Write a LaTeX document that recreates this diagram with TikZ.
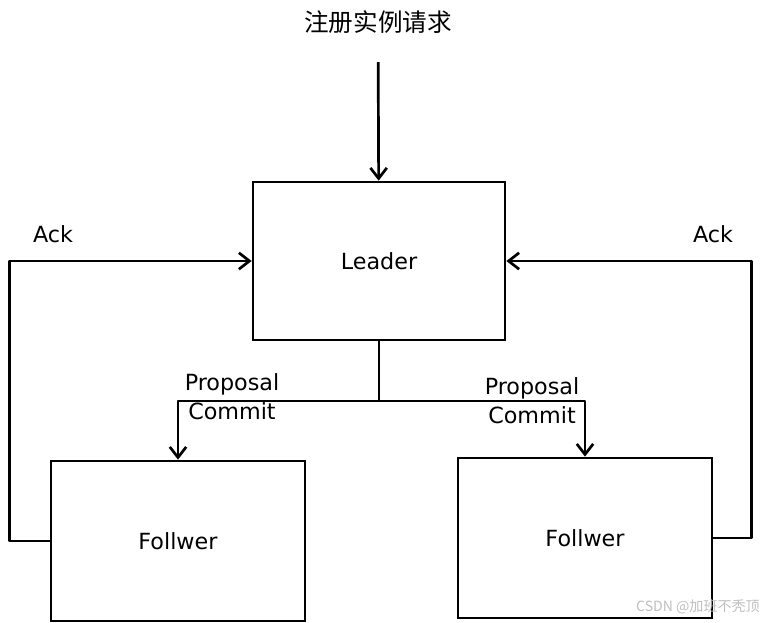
\documentclass[tikz,border=0pt]{standalone}
\usepackage{fontspec}
\setmainfont{DejaVu Sans}
\newfontfamily\cjkfont{Noto Sans CJK SC}
\usetikzlibrary{arrows.meta}

\newcommand{\regLeaderWidth}{7.56cm}
\newcommand{\regLeaderHeight}{4.74cm}
\newcommand{\regFollowerWidth}{7.62cm}
\newcommand{\regFollowerHeight}{4.8cm}
\newcommand{\regAckOut}{40}
\tikzset{
  rg base/.style={font=\fontsize{19}{25}\selectfont, inner sep=2pt},
  rg line/.style={line width=2.3pt, line join=round},
  rg arrow/.style={rg line, -{Straight Barb[length=9pt,width=14pt,line width=2.3pt]}},
  rg box/.style={draw, rectangle, line width=2.3pt, fill=white, align=center},
  rg label/.style={align=center, inner sep=0pt},
}

\begin{document}
\begin{tikzpicture}[
    x=0.03cm, y=-0.03cm,
    rg base,
    leader/.style={rg box, minimum width=\regLeaderWidth, minimum height=\regLeaderHeight},
    follower/.style={rg box, minimum width=\regFollowerWidth, minimum height=\regFollowerHeight},
    arrow/.style={rg arrow}
]
\useasboundingbox (0,0) rectangle (768,622);

\node (title) at (378,22) {\cjkfont\fontsize{21}{24}\selectfont 注册实例请求};
\node (leader) [leader] at (379,261) {Leader};
\node (fol1) [follower] at (178,541) {Follwer};
\node (fol2) [follower] at (585,538) {Follwer};
\coordinate (split) at (379,401);

\draw [arrow] (title) -- (leader) [shorten <=0.78cm];
\draw [rg line] (leader) -- (split);
\draw [arrow] (split) -| (fol1);
\draw [arrow] (split) -| (fol2);
\draw [arrow] (fol1.west) -- ++(-\regAckOut,0) |- (leader.west);
\draw [arrow] (fol2.east) -- ++(38,0) |- (leader.east);

\node (ack1) [rg label] at (53,234) {Ack};
\node (ack2) [rg label] at (713,234) {Ack};
\node (msg1) [rg label] at (232,397) {Proposal\\Commit};
\node (msg2) [rg label] at (532,401) {Proposal\\Commit};

\node (mark) [text=black!25] at (698,607) {\cjkfont\fontsize{12}{15}\selectfont CSDN @加班不秃顶};
\end{tikzpicture}
\end{document}
